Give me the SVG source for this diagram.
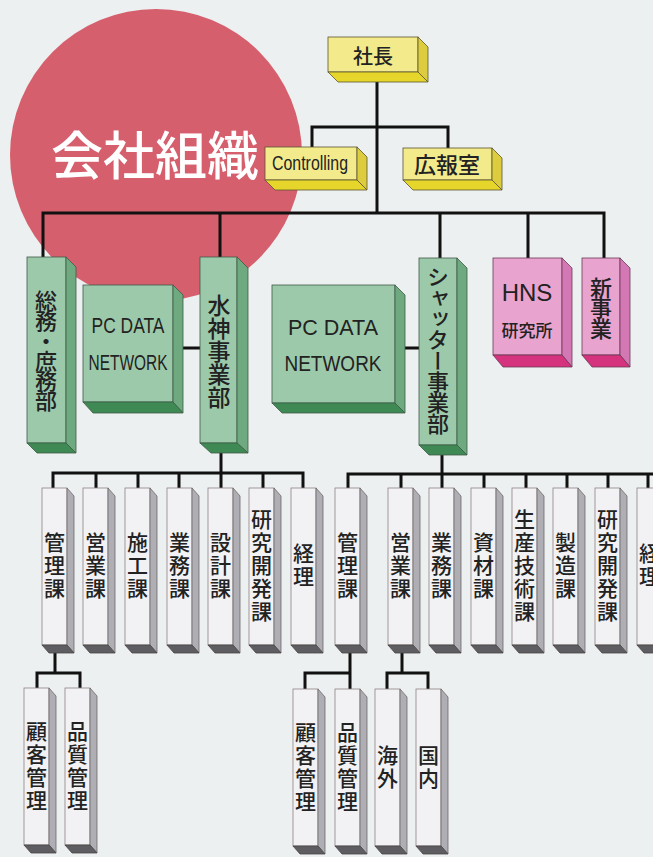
<svg xmlns="http://www.w3.org/2000/svg" xmlns:xlink="http://www.w3.org/1999/xlink" width="653" height="857" viewBox="0 0 653 857">
<style>
.bg{fill:#edf0f1}
.yf{fill:#f3ea8c;stroke:#5a5530;stroke-width:0.8}
.yr{fill:#ddcc3e;stroke:#5a5530;stroke-width:0.8}
.yb{fill:#e6d52a;stroke:#5a5530;stroke-width:0.8}
.gf{fill:#9dc9ab;stroke:#3e5a46;stroke-width:0.8}
.gr{fill:#6fa97f;stroke:#3e5a46;stroke-width:0.8}
.gb{fill:#3f8a54;stroke:#3e5a46;stroke-width:0.8}
.pf{fill:#e8a3cf;stroke:#6a3a55;stroke-width:0.8}
.pr{fill:#d477b5;stroke:#6a3a55;stroke-width:0.8}
.pb{fill:#d6337e;stroke:#6a3a55;stroke-width:0.8}
.wf{fill:#f2f2f4;stroke:#8f8282;stroke-width:0.8}
.wr{fill:#aeaeb4;stroke:#6f6868;stroke-width:0.8}
.wb{fill:#5e5e62;stroke:#4a4444;stroke-width:0.8}
.jp{font-family:"Noto Sans CJK JP","Noto Sans CJK SC",sans-serif;font-weight:500;fill:#222}
.v{writing-mode:vertical-rl;text-anchor:middle}
.h{text-anchor:middle;dominant-baseline:central}
.lat{font-family:"Liberation Sans",Arial,sans-serif;fill:#222}
.s3{font-size:21px;letter-spacing:2px}
.con{fill:none;stroke:#111;stroke-width:3}
</style>
<defs>
<g id="gbox">
<rect class="wf" x="0" y="0" width="25" height="157"/>
<polygon class="wr" points="25,0 32,8 32,165 25,157"/>
<polygon class="wb" points="0,157 25,157 32,165 7,165"/>
</g>
</defs>
<rect class="bg" x="0" y="0" width="653" height="857"/>
<g id="title">
<circle cx="156" cy="155" r="146" fill="#d65f6d"/>
<text class="jp h" x="155" y="152" font-size="52" style="fill:#ffffff">会社組織</text>
</g>
<g id="connectors">
<path class="con" d="M377,82 V213"/>
<path class="con" d="M312,147 V127 H448 V148"/>
<path class="con" d="M43,257 V213 H604 V258"/>
<path class="con" d="M220,213 V257 M440,213 V258 M528,213 V258"/>
<path class="con" d="M183,348 H200 M405,348 H419"/>
<path class="con" d="M221,453 V473"/>
<path class="con" d="M53,488 V473 H303 V488 M96,473 V488 M138,473 V488 M179,473 V488 M221,473 V488 M263,473 V488"/>
<path class="con" d="M442,455 V474"/>
<path class="con" d="M348,488 V474 H660 M401,474 V488 M442,474 V488 M484,474 V488 M526,474 V488 M567,474 V488 M608,474 V488 M648,474 V488"/>
<path class="con" d="M55,653 V673 M37,688 V673 H80 V688"/>
<path class="con" d="M350,653 V689 M305,689 V673 H350"/>
<path class="con" d="M402,653 V673 M387,689 V673 H428 V689"/>
</g>
<g id="n-shacho">
<rect class="yf" x="328" y="37" width="90" height="35"/>
<polygon class="yr" points="418,37 428,47 428,82 418,72"/>
<polygon class="yb" points="328,72 418,72 428,82 338,82"/>
<text class="jp h" x="373" y="55" font-size="20">社長</text>
</g>
<g id="n-controlling">
<rect class="yf" x="265" y="147" width="92" height="33"/>
<polygon class="yr" points="357,147 367,157 367,190 357,180"/>
<polygon class="yb" points="265,180 357,180 367,190 275,190"/>
<text class="lat h" x="310" y="163" font-size="20" textLength="76" lengthAdjust="spacingAndGlyphs">Controlling</text>
</g>
<g id="n-kohoshitsu">
<rect class="yf" x="403" y="148" width="89" height="32"/>
<polygon class="yr" points="492,148 502,158 502,190 492,180"/>
<polygon class="yb" points="403,180 492,180 502,190 413,190"/>
<text class="jp h" x="447" y="163" font-size="22">広報室</text>
</g>
<g id="n-somu">
<rect class="gf" x="27" y="257" width="39" height="186"/>
<polygon class="gr" points="66,257 76,267 76,453 66,443"/>
<polygon class="gb" points="27,443 66,443 76,453 37,453"/>
<text class="jp v" x="46" y="350" font-size="22" letter-spacing="-2">総務・庶務部</text>
</g>
<g id="n-pc1">
<rect class="gf" x="83" y="285" width="90" height="117"/>
<polygon class="gr" points="173,285 183,295 183,413 173,402"/>
<polygon class="gb" points="83,402 173,402 183,413 93,413"/>
<text class="lat h" x="128" y="325" font-size="22" textLength="73" lengthAdjust="spacingAndGlyphs">PC DATA</text>
<text class="lat h" x="128" y="362" font-size="22" textLength="79" lengthAdjust="spacingAndGlyphs">NETWORK</text>
</g>
<g id="n-suijin">
<rect class="gf" x="200" y="257" width="37" height="186"/>
<polygon class="gr" points="237,257 248,268 248,453 237,443"/>
<polygon class="gb" points="200,443 237,443 248,453 211,453"/>
<text class="jp v" x="219" y="351" font-size="23">水神事業部</text>
</g>
<g id="n-pc2">
<rect class="gf" x="272" y="285" width="123" height="118"/>
<polygon class="gr" points="395,285 405,295 405,413 395,403"/>
<polygon class="gb" points="272,403 395,403 405,413 282,413"/>
<text class="lat h" x="333" y="327" font-size="22" textLength="90" lengthAdjust="spacingAndGlyphs">PC DATA</text>
<text class="lat h" x="333" y="363" font-size="22" textLength="97" lengthAdjust="spacingAndGlyphs">NETWORK</text>
</g>
<g id="n-shutter">
<rect class="gf" x="419" y="258" width="38" height="187"/>
<polygon class="gr" points="457,258 467,268 467,455 457,445"/>
<polygon class="gb" points="419,445 457,445 467,455 429,455"/>
<text class="jp v" x="438" y="350" font-size="22" letter-spacing="-1">シャッター事業部</text>
</g>
<g id="n-hns">
<rect class="pf" x="493" y="258" width="69" height="97"/>
<polygon class="pr" points="562,258 572,268 572,367 562,355"/>
<polygon class="pb" points="493,355 562,355 572,367 503,367"/>
<text class="lat h" x="527" y="292" font-size="24">HNS</text>
<text class="jp h" x="527" y="329" font-size="17">研究所</text>
</g>
<g id="n-shinjigyo">
<rect class="pf" x="582" y="258" width="38" height="97"/>
<polygon class="pr" points="620,258 630,268 630,367 620,355"/>
<polygon class="pb" points="582,355 620,355 630,367 592,367"/>
<text class="jp v" x="601" y="307" font-size="22" letter-spacing="-1.5">新事業</text>
</g>
<g id="n-s1-kanri"><use xlink:href="#gbox" x="42" y="488"/><text class="jp v s3" x="54.5" y="566">管理課</text></g>
<g id="n-s1-eigyo"><use xlink:href="#gbox" x="83" y="488"/><text class="jp v s3" x="95.5" y="566">営業課</text></g>
<g id="n-s1-seko"><use xlink:href="#gbox" x="125" y="488"/><text class="jp v s3" x="137.5" y="566">施工課</text></g>
<g id="n-s1-gyomu"><use xlink:href="#gbox" x="167" y="488"/><text class="jp v s3" x="179.5" y="566">業務課</text></g>
<g id="n-s1-sekkei"><use xlink:href="#gbox" x="208" y="488"/><text class="jp v s3" x="220.5" y="566">設計課</text></g>
<g id="n-s1-kenkyu"><use xlink:href="#gbox" x="249" y="488"/><text class="jp v s3" x="261.5" y="566">研究開発課</text></g>
<g id="n-s1-keiri"><use xlink:href="#gbox" x="291" y="488"/><text class="jp v s3" x="303.5" y="566">経理</text></g>
<g id="n-s2-kanri"><use xlink:href="#gbox" x="335" y="488"/><text class="jp v s3" x="347.5" y="566">管理課</text></g>
<g id="n-s2-eigyo"><use xlink:href="#gbox" x="388" y="488"/><text class="jp v s3" x="400.5" y="566">営業課</text></g>
<g id="n-s2-gyomu"><use xlink:href="#gbox" x="429" y="488"/><text class="jp v s3" x="441.5" y="566">業務課</text></g>
<g id="n-s2-shizai"><use xlink:href="#gbox" x="471" y="488"/><text class="jp v s3" x="483.5" y="566">資材課</text></g>
<g id="n-s2-seisan"><use xlink:href="#gbox" x="512" y="488"/><text class="jp v s3" x="524.5" y="566">生産技術課</text></g>
<g id="n-s2-seizo"><use xlink:href="#gbox" x="553" y="488"/><text class="jp v s3" x="565.5" y="566">製造課</text></g>
<g id="n-s2-kenkyu"><use xlink:href="#gbox" x="595" y="488"/><text class="jp v s3" x="607.5" y="566">研究開発課</text></g>
<g id="n-s2-keiri"><use xlink:href="#gbox" x="637" y="488"/><text class="jp v s3" x="649.5" y="566">経理</text></g>
<g id="n-s1-kokyaku"><use xlink:href="#gbox" x="24" y="688"/><text class="jp v s3" x="36.5" y="767">顧客管理</text></g>
<g id="n-s1-hinshitsu"><use xlink:href="#gbox" x="65" y="688"/><text class="jp v s3" x="77.5" y="767">品質管理</text></g>
<g id="n-s2-kokyaku"><use xlink:href="#gbox" x="293" y="689"/><text class="jp v s3" x="305.5" y="768">顧客管理</text></g>
<g id="n-s2-hinshitsu"><use xlink:href="#gbox" x="335" y="689"/><text class="jp v s3" x="347.5" y="768">品質管理</text></g>
<g id="n-s2-kaigai"><use xlink:href="#gbox" x="375" y="689"/><text class="jp v s3" x="387.5" y="768">海外</text></g>
<g id="n-s2-kokunai"><use xlink:href="#gbox" x="416" y="689"/><text class="jp v s3" x="428.5" y="768">国内</text></g>
</svg>
